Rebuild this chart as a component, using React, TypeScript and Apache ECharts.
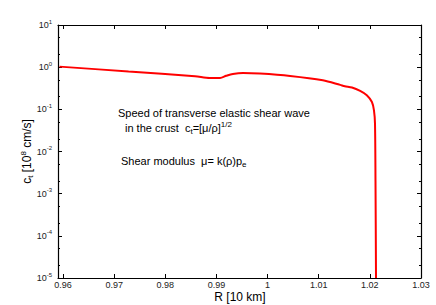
import React, { useEffect, useRef } from "react";
import * as echarts from "echarts";

const R = [0.9593, 0.9728, 0.9858, 0.9887, 0.9907, 0.9919, 0.9932, 0.9952, 0.9985, 1.0044, 1.0108, 1.0142, 1.0151, 1.0165, 1.0181, 1.0194, 1.0204, 1.0208, 1.021, 1.0211, 1.0212];
const ct = [1.03, 0.79, 0.61, 0.556, 0.556, 0.625, 0.692, 0.731, 0.708, 0.621, 0.49, 0.38, 0.353, 0.329, 0.273, 0.215, 0.149, 0.0946, 0.0464, 0.002, 0.00001];
const xTicks = [0.96, 0.97, 0.98, 0.99, 1.0, 1.01, 1.02, 1.03];
const yExponents = [-5, -4, -3, -2, -1, 0, 1];
const minorMantissas = [2, 5];

const FONT = "'Liberation Sans', Arial, Helvetica, sans-serif";

export default function App() {
  const ref = useRef<HTMLDivElement>(null);
  useEffect(() => {
    document.body.style.margin = "0";
    const chart = echarts.init(ref.current!, null, { renderer: "svg" });
    const axisLine = { onZero: false, lineStyle: { color: "#000", width: 1.2 } };
    const fmtX = (v: number) => String(+Number(v).toFixed(2));
    const fmtY = (v: number) => `{b|10}{s|${Math.round(Math.log10(v))}}`;
    const yRich = {
      b: { fontSize: 9, fontFamily: FONT, color: "#222" },
      s: { fontSize: 6, fontFamily: FONT, color: "#222", padding: [0, 0, 7, 0] },
    };
    const minorPos: number[] = [];
    yExponents.slice(0, -1).forEach((e) => minorMantissas.forEach((m) => minorPos.push(e + Math.log10(m))));
    const minorAxis = (pos: string) => ({
      type: "value",
      position: pos,
      min: -5,
      max: 1,
      axisLine: { show: false, onZero: false },
      splitLine: { show: false },
      axisTick: { inside: true, length: 2, customValues: minorPos, lineStyle: { color: "#000" } },
      axisLabel: { show: false },
    });
    const option: any = {
      animation: false,
      textStyle: { fontFamily: FONT },
      grid: { left: 58, right: 15, top: 25, bottom: 27 },
      xAxis: [
        {
          type: "value",
          min: 0.959,
          max: 1.03,
          axisLine,
          splitLine: { show: false },
          axisTick: { inside: true, length: 4, customValues: xTicks, lineStyle: { color: "#000" } },
          axisLabel: { customValues: xTicks, formatter: fmtX, fontSize: 9, color: "#222", margin: 2, fontFamily: FONT },
        },
        {
          type: "value",
          position: "top",
          min: 0.959,
          max: 1.03,
          axisLine,
          splitLine: { show: false },
          axisTick: { inside: true, length: 4, customValues: xTicks, lineStyle: { color: "#000" } },
          axisLabel: { show: false },
        },
      ],
      yAxis: [
        {
          type: "log",
          logBase: 10,
          min: 1e-5,
          max: 10,
          axisLine,
          splitLine: { show: false },
          axisTick: { inside: true, length: 4, lineStyle: { color: "#000" } },
          axisLabel: { formatter: fmtY, rich: yRich, margin: 6 },
          name: "{n|c}{sub|t}{n| [10}{sup|8}{n| cm/s]}",
          nameLocation: "middle",
          nameRotate: 90,
          nameGap: 23,
          nameMoveOverlap: false,
          nameTextStyle: {
            rich: {
              n: { fontSize: 12, fontFamily: FONT, color: "#000" },
              sub: { fontSize: 8, fontFamily: FONT, color: "#000", padding: [6, 0, 0, 0] },
              sup: { fontSize: 8, fontFamily: FONT, color: "#000", padding: [0, 0, 8, 0] },
            },
          },
        },
        {
          type: "log",
          logBase: 10,
          position: "right",
          min: 1e-5,
          max: 10,
          axisLine,
          splitLine: { show: false },
          axisTick: { inside: true, length: 4, lineStyle: { color: "#000" } },
          axisLabel: { show: false },
        },
        minorAxis("left"),
        minorAxis("right"),
      ],
      series: [
        {
          type: "line",
          data: R.map((r, i) => [r, ct[i]]),
          showSymbol: false,
          smooth: 0.3,
          lineStyle: { color: "#ff0000", width: 2 },
          xAxisIndex: 0,
          yAxisIndex: 0,
        },
      ],
      graphic: [
        {
          type: "text",
          x: 240,
          y: 297,
          style: { text: "R [10 km]", font: `12px ${FONT}`, fill: "#000", align: "center", verticalAlign: "middle" },
        },
        {
          type: "text",
          x: 118,
          y: 113,
          style: { text: "Speed of transverse elastic shear wave", font: `11px ${FONT}`, fill: "#000", verticalAlign: "middle" },
        },
        {
          type: "text",
          x: 125,
          y: 128,
          style: {
            text: "{n|in the crust  c}{sub|t}{n|=[μ/ρ]}{sup|1/2}",
            verticalAlign: "middle",
            rich: {
              n: { fontSize: 11, fontFamily: FONT, fill: "#000" },
              sub: { fontSize: 8, fontFamily: FONT, fill: "#000", padding: [6, 0, 0, 0] },
              sup: { fontSize: 8, fontFamily: FONT, fill: "#000", padding: [0, 0, 8, 0] },
            },
          },
        },
        {
          type: "text",
          x: 121,
          y: 161,
          style: {
            text: "{n|Shear modulus  μ= k(ρ)p}{sub|e}",
            verticalAlign: "middle",
            rich: {
              n: { fontSize: 11, fontFamily: FONT, fill: "#000" },
              sub: { fontSize: 8, fontFamily: FONT, fill: "#000", padding: [6, 0, 0, 0] },
            },
          },
        },
      ],
    };
    chart.setOption(option);
    return () => chart.dispose();
  }, []);
  return <div ref={ref} style={{ width: 436, height: 305 }} />;
}
